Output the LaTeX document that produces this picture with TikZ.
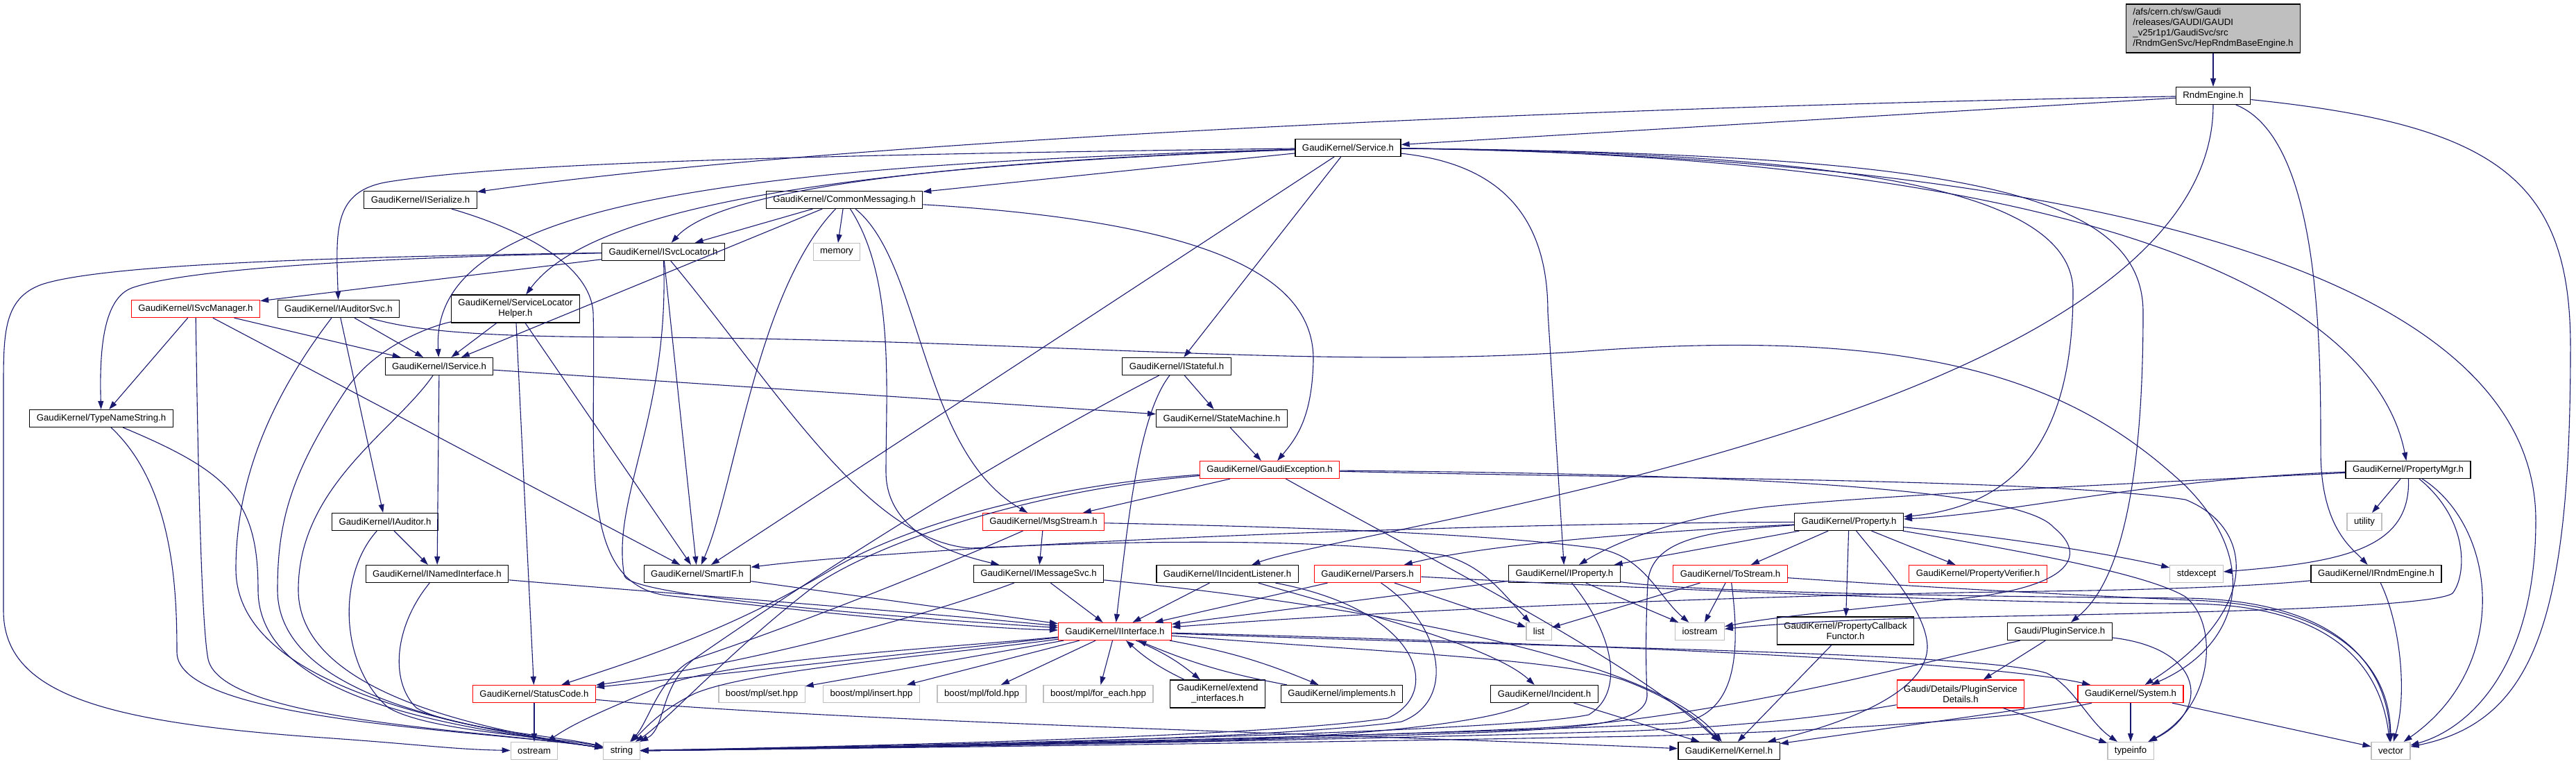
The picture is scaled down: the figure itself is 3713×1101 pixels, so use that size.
\documentclass[tikz,border=0pt]{standalone}
\usepackage{fontspec}
\setmainfont{Liberation Sans}
\usetikzlibrary{arrows.meta}
\definecolor{edgeblue}{RGB}{25,25,112}
\definecolor{sysgray}{RGB}{191,191,191}
\tikzset{
  hdr/.style={draw=black, line width=0.6pt, fill=white, rectangle, inner xsep=5pt, inner ysep=2pt,
    minimum height=12.5pt, align=center, font=\fontsize{6.6}{7.5}\selectfont},
  hdrred/.style={hdr, draw=red},
  hdrsys/.style={hdr, draw=sysgray},
  dep/.style={draw=edgeblue, line width=0.55pt, -{Triangle[length=6pt,width=4pt]}},
}
\begin{document}
\begin{tikzpicture}[x=0.5pt,y=0.5pt,yscale=-1,xscale=1]
\useasboundingbox (0,0) rectangle (3713,1101);

% Header nodes
\node[hdr, fill=sysgray, align=left, minimum height=35pt] (top) at (3190,41) {/afs/cern.ch/sw/Gaudi\\/releases/GAUDI/GAUDI\\\_v25r1p1/GaudiSvc/src\\/RndmGenSvc/HepRndmBaseEngine.h};
\node[hdr] (rndm) at (3190,138) {RndmEngine.h};
\node[hdr] (svc) at (1943,213) {GaudiKernel/Service.h};
\node[hdr] (iser) at (606,288) {GaudiKernel/ISerialize.h};
\node[hdr] (cmsg) at (1217,288) {GaudiKernel/CommonMessaging.h};
\node[hdr] (isvcloc) at (956,363) {GaudiKernel/ISvcLocator.h};
\node[hdrsys] (memory) at (1206,363) {memory};
\node[hdrred] (isvcmgr) at (282,445) {GaudiKernel/ISvcManager.h};
\node[hdr] (iaud) at (488,445) {GaudiKernel/IAuditorSvc.h};
\node[hdr, minimum height=20pt] (slh) at (743,445) {GaudiKernel/ServiceLocator\\Helper.h};
\node[hdr] (isvc) at (633,528) {GaudiKernel/IService.h};
\node[hdr] (istat) at (1696,528) {GaudiKernel/IStateful.h};
\node[hdr] (tns) at (146,603) {GaudiKernel/TypeNameString.h};
\node[hdr] (stm) at (1761,603) {GaudiKernel/StateMachine.h};
\node[hdrred] (gexc) at (1830,677) {GaudiKernel/GaudiException.h};
\node[hdr] (pmgr) at (3471,677) {GaudiKernel/PropertyMgr.h};
\node[hdr] (iaudr) at (555,752) {GaudiKernel/IAuditor.h};
\node[hdrred] (msgs) at (1504,752) {GaudiKernel/MsgStream.h};
\node[hdr] (prop) at (2665,752) {GaudiKernel/Property.h};
\node[hdrsys] (utility) at (3408,752) {utility};
\node[hdr] (inamed) at (630,827) {GaudiKernel/INamedInterface.h};
\node[hdr] (smartif) at (1005,827) {GaudiKernel/SmartIF.h};
\node[hdr] (imsg) at (1497,827) {GaudiKernel/IMessageSvc.h};
\node[hdr] (incl) at (1769,827) {GaudiKernel/IIncidentListener.h};
\node[hdrred] (parsers) at (1971,827) {GaudiKernel/Parsers.h};
\node[hdr] (iprop) at (2255,827) {GaudiKernel/IProperty.h};
\node[hdrred] (tostr) at (2494,827) {GaudiKernel/ToStream.h};
\node[hdrred] (pverif) at (2851,827) {GaudiKernel/PropertyVerifier.h};
\node[hdrsys] (stdexc) at (3166,827) {stdexcept};
\node[hdr] (irnd) at (3425,827) {GaudiKernel/IRndmEngine.h};
\node[hdrred] (iint) at (1607,910) {GaudiKernel/IInterface.h};
\node[hdrsys] (list) at (2218,910) {list};
\node[hdrsys] (iostr) at (2450,910) {iostream};
\node[hdr, minimum height=20pt] (pcbf) at (2660,909) {GaudiKernel/PropertyCallback\\Functor.h};
\node[hdr] (plugsvc) at (2969,910) {Gaudi/PluginService.h};
\node[hdrred] (sc) at (770,1000) {GaudiKernel/StatusCode.h};
\node[hdrsys] (mplset) at (1098,1000) {boost/mpl/set.hpp};
\node[hdrsys] (mplins) at (1256,1000) {boost/mpl/insert.hpp};
\node[hdrsys] (mplfold) at (1415,1000) {boost/mpl/fold.hpp};
\node[hdrsys] (mplfe) at (1583,1000) {boost/mpl/for\_each.hpp};
\node[hdr, minimum height=20pt] (extif) at (1755,1000) {GaudiKernel/extend\\\_interfaces.h};
\node[hdr] (impl) at (1934,1000) {GaudiKernel/implements.h};
\node[hdr] (incident) at (2226,1000) {GaudiKernel/Incident.h};
\node[hdrred, minimum height=20pt] (psd) at (2826,1000) {Gaudi/Details/PluginService\\Details.h};
\node[hdrred] (system) at (3071,1000) {GaudiKernel/System.h};
\node[hdrsys] (ostream) at (770,1082) {ostream};
\node[hdrsys] (string) at (896,1082) {string};
\node[hdr] (kernel) at (2492,1082) {GaudiKernel/Kernel.h};
\node[hdrsys] (typeinfo) at (3071,1082) {typeinfo};
\node[hdrsys] (vector) at (3446,1082) {vector};

% RndmEngine.h
\draw[dep] (top) -- (rndm);
\draw[dep] (rndm) -- (svc);
\draw[dep] (rndm) .. controls (2500,150) and (1300,190) .. (iser);
\draw[dep] (rndm) .. controls (3190,600) and (1950,760) .. (incl);
\draw[dep] (rndm) .. controls (3345,200) and (3345,500) .. (3345,650) .. controls (3345,760) and (3390,790) .. (irnd);
\draw[dep] (rndm) .. controls (3600,180) and (3705,260) .. (3705,500) .. controls (3705,900) and (3650,1040) .. (vector);

% Service.h
\draw[dep] (svc) -- (cmsg);
\draw[dep] (svc) .. controls (1300,235) and (1030,280) .. (isvcloc);
\draw[dep] (svc) .. controls (1000,240) and (620,300) .. (isvc);
\draw[dep] (svc) .. controls (1200,240) and (850,300) .. (slh);
\draw[dep] (svc) .. controls (1000,225) and (700,240) .. (560,262) .. controls (480,275) and (484,330) .. (iaud);
\draw[dep] (svc) -- (smartif);
\draw[dep] (svc) -- (istat);
\draw[dep] (svc) .. controls (2150,235) and (2231,300) .. (2231,450) -- (iprop);
\draw[dep] (svc) .. controls (2600,220) and (2988,260) .. (2988,420) .. controls (2988,640) and (2900,730) .. (prop);
\draw[dep] (svc) .. controls (2800,222) and (3089,270) .. (3089,450) .. controls (3089,780) and (3030,860) .. (plugsvc);
\draw[dep] (svc) .. controls (3000,225) and (3420,420) .. (pmgr);
\draw[dep] (svc) .. controls (3100,228) and (3655,420) .. (3655,750) .. controls (3655,960) and (3560,1050) .. (vector);

% ISerialize.h, CommonMessaging.h
\draw[dep] (iser) .. controls (750,330) and (850,380) .. (855,450) .. controls (860,650) and (830,840) .. (960,858) .. controls (1200,885) and (1400,905) .. (iint);
\draw[dep] (cmsg) -- (isvcloc);
\draw[dep] (cmsg) -- (isvc);
\draw[dep] (cmsg) .. controls (1090,420) and (1060,700) .. (smartif);
\draw[dep] (cmsg) -- (memory);
\draw[dep] (cmsg) .. controls (1290,400) and (1277,560) .. (1277,680) .. controls (1277,770) and (1380,800) .. (imsg);
\draw[dep] (cmsg) .. controls (1330,380) and (1326,650) .. (msgs);
\draw[dep] (cmsg) .. controls (1750,320) and (1895,400) .. (1893,520) .. controls (1891,600) and (1870,630) .. (gexc);

% ISvcLocator.h, ISvcManager.h
\draw[dep] (isvcloc) -- (isvcmgr);
\draw[dep] (isvcloc) .. controls (500,372) and (260,390) .. (190,415) .. controls (150,430) and (143,500) .. (tns);
\draw[dep] (isvcloc) .. controls (500,370) and (150,380) .. (60,410) .. controls (5,430) and (5,480) .. (5,560) -- (5,880) .. controls (5,1000) and (150,1040) .. (450,1062) .. controls (600,1072) and (650,1080) .. (ostream);
\draw[dep] (isvcloc) -- (smartif);
\draw[dep] (isvcloc) .. controls (965,600) and (880,720) .. (900,830) .. controls (910,860) and (1300,890) .. (iint);
\draw[dep] (isvcloc) .. controls (1120,560) and (1250,780) .. (1400,790) .. controls (1700,775) and (1950,780) .. (2080,800) .. controls (2140,815) and (2170,860) .. (list);
\draw[dep] (isvcmgr) -- (tns);
\draw[dep] (isvcmgr) -- (isvc);
\draw[dep] (isvcmgr) -- (smartif);
\draw[dep] (isvcmgr) .. controls (285,650) and (290,900) .. (300,950) .. controls (320,1040) and (700,1052) .. (string);

% IAuditorSvc.h, ServiceLocatorHelper.h, IService.h
\draw[dep] (iaud) -- (isvc);
\draw[dep] (iaud) -- (iaudr);
\draw[dep] (iaud) .. controls (400,560) and (340,680) .. (340,820) .. controls (340,1000) and (700,1052) .. (string);
\draw[dep] (iaud) .. controls (600,478) and (700,485) .. (900,486) .. controls (1500,488) and (1900,535) .. (2300,505) .. controls (2800,470) and (3000,560) .. (3150,700) .. controls (3260,810) and (3230,930) .. (system);
\draw[dep] (slh) -- (isvc);
\draw[dep] (slh) -- (smartif);
\draw[dep] (slh) -- (sc);
\draw[dep] (slh) .. controls (620,470) and (540,500) .. (500,560) .. controls (420,680) and (400,750) .. (400,850) .. controls (400,1010) and (700,1052) .. (string);
\draw[dep] (isvc) -- (stm);
\draw[dep] (isvc) -- (inamed);
\draw[dep] (isvc) .. controls (570,620) and (430,700) .. (430,850) .. controls (430,1000) and (700,1052) .. (string);

% TypeNameString.h, IStateful.h, StateMachine.h
\draw[dep] (tns) .. controls (250,700) and (255,850) .. (255,940) .. controls (255,1040) and (700,1052) .. (string);
\draw[dep] (tns) .. controls (330,680) and (372,720) .. (372,850) .. controls (372,1020) and (700,1052) .. (string);
\draw[dep] (istat) -- (stm);
\draw[dep] (istat) .. controls (1640,600) and (1625,760) .. (iint);
\draw[dep] (istat) .. controls (1400,680) and (1100,880) .. (1000,950) .. controls (950,990) and (960,1050) .. (string);
\draw[dep] (stm) -- (gexc);

% GaudiException.h
\draw[dep] (gexc) -- (msgs);
\draw[dep] (gexc) .. controls (1500,700) and (1300,760) .. (1200,820) .. controls (1050,910) and (920,950) .. (sc);
\draw[dep] (gexc) .. controls (1500,705) and (1280,775) .. (1180,840) .. controls (1060,930) and (960,1040) .. (string);
\draw[dep] (gexc) .. controls (2050,800) and (2350,950) .. (kernel);
\draw[dep] (gexc) .. controls (2400,690) and (2950,690) .. (3150,720) .. controls (3250,760) and (3260,880) .. (system);
\draw[dep] (gexc) .. controls (2300,682) and (2900,690) .. (2960,760) .. controls (3010,800) and (2990,850) .. (2800,865) .. controls (2650,880) and (2550,890) .. (iostr);

% MsgStream.h, IMessageSvc.h, IIncidentListener.h, Parsers.h
\draw[dep] (msgs) -- (imsg);
\draw[dep] (msgs) .. controls (1350,820) and (1150,900) .. (1000,950) .. controls (950,975) and (935,1040) .. (string);
\draw[dep] (msgs) .. controls (1900,760) and (2150,770) .. (2300,790) .. controls (2370,800) and (2390,860) .. (iostr);
\draw[dep] (imsg) -- (iint);
\draw[dep] (imsg) .. controls (1300,900) and (1050,960) .. (sc);
\draw[dep] (imsg) .. controls (1900,865) and (2380,940) .. (kernel);
\draw[dep] (incl) -- (iint);
\draw[dep] (incl) .. controls (1950,880) and (2150,930) .. (incident);
\draw[dep] (incl) .. controls (2050,880) and (2080,1000) .. (2000,1035) .. controls (1800,1065) and (1100,1078) .. (string);
\draw[dep] (parsers) -- (iint);
\draw[dep] (parsers) -- (list);
\draw[dep] (parsers) .. controls (2080,900) and (2100,1010) .. (2020,1040) .. controls (1800,1070) and (1100,1080) .. (string);
\draw[dep] (parsers) .. controls (2400,850) and (2900,870) .. (3150,870) .. controls (3350,870) and (3430,950) .. (vector);

% IProperty.h, Property.h, ToStream.h
\draw[dep] (iprop) -- (iint);
\draw[dep] (iprop) -- (iostr);
\draw[dep] (iprop) .. controls (2330,920) and (2340,1000) .. (2290,1030) .. controls (2150,1060) and (1100,1078) .. (string);
\draw[dep] (iprop) .. controls (2450,855) and (2900,860) .. (3150,862) .. controls (3360,865) and (3440,950) .. (vector);
\draw[dep] (prop) -- (iprop);
\draw[dep] (prop) -- (tostr);
\draw[dep] (prop) -- (pverif);
\draw[dep] (prop) -- (pcbf);
\draw[dep] (prop) .. controls (2720,820) and (2775,880) .. (2778,930) .. controls (2780,1000) and (2650,1045) .. (kernel);
\draw[dep] (prop) .. controls (2450,765) and (2380,780) .. (2375,840) .. controls (2372,900) and (2372,960) .. (2374,1000) .. controls (2376,1040) and (2300,1048) .. (2150,1055) .. controls (1700,1072) and (1100,1080) .. (string);
\draw[dep] (prop) .. controls (2000,755) and (1300,790) .. (smartif);
\draw[dep] (prop) .. controls (2300,770) and (2120,790) .. (parsers);
\draw[dep] (prop) .. controls (2900,775) and (3050,800) .. (stdexc);
\draw[dep] (prop) .. controls (2950,800) and (3100,830) .. (3150,860) .. controls (3200,900) and (3190,1020) .. (typeinfo);
\draw[dep] (tostr) -- (list);
\draw[dep] (tostr) -- (iostr);
\draw[dep] (tostr) .. controls (2510,950) and (2500,1030) .. (2420,1042) .. controls (2100,1060) and (1100,1080) .. (string);
\draw[dep] (tostr) .. controls (2800,848) and (3000,858) .. (3160,865) .. controls (3370,872) and (3445,960) .. (vector);
\draw[dep] (pcbf) -- (kernel);

% PropertyMgr.h, IRndmEngine.h
\draw[dep] (pmgr) .. controls (3100,690) and (2900,740) .. (prop);
\draw[dep] (pmgr) .. controls (3000,700) and (2700,715) .. (2550,730) .. controls (2420,745) and (2330,780) .. (iprop);
\draw[dep] (pmgr) -- (utility);
\draw[dep] (pmgr) .. controls (3475,790) and (3380,810) .. (stdexc);
\draw[dep] (pmgr) .. controls (3560,750) and (3555,830) .. (3535,855) .. controls (3500,880) and (3000,885) .. (2800,890) .. controls (2650,893) and (2550,900) .. (iostr);
\draw[dep] (pmgr) .. controls (3600,760) and (3620,960) .. (vector);
\draw[dep] (irnd) .. controls (3250,845) and (3100,850) .. (2950,852) .. controls (2500,858) and (2000,880) .. (iint);
\draw[dep] (irnd) .. controls (3460,900) and (3470,1000) .. (vector);

% PluginService.h, PluginServiceDetails.h, System.h
\draw[dep] (plugsvc) -- (psd);
\draw[dep] (plugsvc) .. controls (2750,960) and (2450,1040) .. (2200,1050) .. controls (1800,1068) and (1100,1080) .. (string);
\draw[dep] (plugsvc) .. controls (3180,935) and (3185,1025) .. (typeinfo);
\draw[dep] (psd) -- (typeinfo);
\draw[dep] (psd) .. controls (2650,1030) and (2500,1050) .. (2300,1055) .. controls (1800,1070) and (1100,1080) .. (string);
\draw[dep] (system) -- (kernel);
\draw[dep] (system) -- (typeinfo);
\draw[dep] (system) -- (vector);
\draw[dep] (system) .. controls (2900,1040) and (2500,1060) .. (2300,1062) .. controls (1800,1072) and (1100,1080) .. (string);

% IInterface.h
\draw[dep] (iint) -- (sc);
\draw[dep] (iint) -- (mplset);
\draw[dep] (iint) -- (mplins);
\draw[dep] (iint) -- (mplfold);
\draw[dep] (iint) -- (mplfe);
\draw[dep] (iint) to[bend right=8] (extif);
\draw[dep] (extif) to[bend right=8] (iint);
\draw[dep] (iint) to[bend right=6] (impl);
\draw[dep] (impl) to[bend right=6] (iint);
\draw[dep] (iint) .. controls (2200,925) and (2850,950) .. (system);
\draw[dep] (iint) .. controls (2000,940) and (2250,950) .. (2340,980) .. controls (2420,1010) and (2450,1040) .. (kernel);
\draw[dep] (iint) .. controls (2300,935) and (2850,940) .. (2950,970) .. controls (2990,990) and (3010,1040) .. (typeinfo);
\draw[dep] (iint) .. controls (1350,935) and (1050,950) .. (950,990) .. controls (880,1020) and (830,1040) .. (ostream);
\draw[dep] (iint) .. controls (1350,945) and (1080,965) .. (1000,1000) .. controls (950,1025) and (930,1050) .. (string);

% StatusCode.h, Incident.h, INamedInterface.h, IAuditor.h, SmartIF.h
\draw[dep] (sc) -- (ostream);
\draw[dep] (sc) .. controls (1200,1040) and (2000,1060) .. (kernel);
\draw[dep] (incident) .. controls (2150,1045) and (1900,1065) .. (1700,1068) .. controls (1400,1073) and (1100,1080) .. (string);
\draw[dep] (incident) -- (kernel);
\draw[dep] (inamed) .. controls (900,850) and (1300,880) .. (iint);
\draw[dep] (inamed) .. controls (570,900) and (560,980) .. (600,1020) .. controls (650,1050) and (800,1060) .. (string);
\draw[dep] (iaudr) -- (inamed);
\draw[dep] (iaudr) .. controls (485,830) and (490,960) .. (560,1020) .. controls (620,1055) and (800,1062) .. (string);
\draw[dep] (smartif) -- (iint);

\end{tikzpicture}
\end{document}
